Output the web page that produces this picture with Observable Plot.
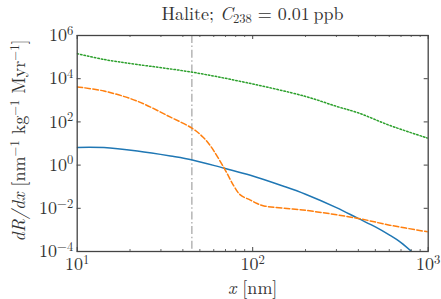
<!DOCTYPE html>
<html><head><meta charset="utf-8">
<script src="https://cdn.jsdelivr.net/npm/d3@7"></script>
<script src="https://cdn.jsdelivr.net/npm/@observablehq/plot@0.6"></script>
<style>
body{margin:0;background:#fff;}
#title{height:12px;width:441px;position:relative;z-index:1;overflow:visible;font-family:"Latin Modern Roman","Liberation Serif",serif;font-size:18px;color:#333;}
#title span{position:absolute;left:252.5px;top:3px;line-height:20px;transform:translateX(-50%);white-space:nowrap;}
#title sub{font-size:0.7em;vertical-align:-0.22em;line-height:0;}
#chart{position:relative;z-index:0;}
</style></head><body>
<div id="title"><span>Halite; <i>C</i><sub>238</sub> = 0.01&thinsp;ppb</span></div>
<div id="chart"></div>
<script>
// Data
const blueX = [10, 14.2, 22, 34, 45.3, 69, 97, 150, 200, 300, 399, 500, 603, 700, 804];
const blueY = [6.6, 6.46, 4.47, 2.63, 1.74, 0.71, 0.34, 0.105, 0.0447, 0.0107, 0.00339, 0.00138, 0.000575, 0.00026, 0.0001];
const orangeX = [10, 14.2, 22, 34, 45.3, 52, 57.5, 69, 78, 85, 97, 106, 116, 200, 399, 603, 1000];
const orangeY = [4170, 2690, 912, 166, 50.1, 20, 7.67, 0.69, 0.11, 0.0417, 0.024, 0.0166, 0.0129, 0.0081, 0.0034, 0.00166, 0.00081];
const greenX = [10, 14.2, 22, 45.3, 93, 200, 300, 399, 603, 1000];
const greenY = [145000, 77600, 45700, 20000, 6460, 1510, 525, 263, 69, 17.4];
const vLineX = [45];
const xMajor = [10, 100, 1000];
const xMinor = [20, 30, 40, 50, 60, 70, 80, 90, 200, 300, 400, 500, 600, 700, 800, 900];
const yMajor = [1e-4, 1e-2, 1, 1e2, 1e4, 1e6];
const yLabelParts = [{t: "dR/dx", s: "i"}, {t: " [nm"}, {t: "−1", s: "sup"}, {t: " kg"}, {t: "−1", s: "sup"}, {t: " Myr"}, {t: "−1", s: "sup"}, {t: "]"}];
const xLabelParts = [{t: "x", s: "i"}, {t: " [nm]"}];

const W = 441, H = 287, mL = 76.7, mR = 13.3, mT = 23, mB = 48;
const innerW = W - mL - mR, innerH = H - mT - mB;
const TL = 4, TLm = 2;
const fmt = d => "10^" + Math.round(Math.log10(d));
const toRows = (xs, ys) => xs.map((x, i) => ({x, y: ys[i]}));
const axisColor = "#444";
const yLabel = yLabelParts.map(p => p.t).join("");
const xLabel = xLabelParts.map(p => p.t).join("");
const FONT = "'Latin Modern Roman', 'Liberation Serif', serif";

const chart = Plot.plot({
  width: W, height: H,
  marginLeft: mL, marginRight: mR, marginTop: mT, marginBottom: mB,
  x: {type: "log", domain: [10, 1000]},
  y: {type: "log", domain: [1e-4, 1e6]},
  style: {fontFamily: FONT, fontSize: "18px", color: "#333", background: "transparent"},
  marks: [
    Plot.ruleX(vLineX, {x: d => d, stroke: "#b5b5b5", strokeWidth: 1.5, strokeDasharray: "8,2.6,1.5,2.6"}),
    Plot.line(toRows(blueX, blueY), {x: "x", y: "y", stroke: "#1f77b4", strokeWidth: 1.5, curve: "catmull-rom", clip: true}),
    Plot.line(toRows(orangeX, orangeY), {x: "x", y: "y", stroke: "#ff7f0e", strokeWidth: 1.5, strokeDasharray: "5.5,2.4", curve: "catmull-rom", clip: true}),
    Plot.line(toRows(greenX, greenY), {x: "x", y: "y", stroke: "#2ca02c", strokeWidth: 1.5, strokeDasharray: "1.5,2.0", curve: "catmull-rom", clip: true}),
    // inward ticks
    Plot.tickX(xMajor, {x: d => d, insetTop: innerH - TL, stroke: axisColor, strokeWidth: 1}),
    Plot.tickX(xMajor, {x: d => d, insetBottom: innerH - TL, stroke: axisColor, strokeWidth: 1}),
    Plot.tickX(xMinor, {x: d => d, insetTop: innerH - TLm, stroke: axisColor, strokeWidth: 0.8}),
    Plot.tickX(xMinor, {x: d => d, insetBottom: innerH - TLm, stroke: axisColor, strokeWidth: 0.8}),
    Plot.tickY(yMajor, {y: d => d, insetRight: innerW - TL, stroke: axisColor, strokeWidth: 1}),
    Plot.tickY(yMajor, {y: d => d, insetLeft: innerW - TL, stroke: axisColor, strokeWidth: 1}),
    Plot.frame({stroke: axisColor, strokeWidth: 1.3}),
    Plot.axisX({ticks: xMajor, tickSize: 0, tickPadding: 6, tickFormat: fmt, label: null, fill: "#333"}),
    Plot.axisY({ticks: yMajor, tickSize: 0, tickPadding: 4, tickFormat: fmt, label: null, dy: 0, fill: "#333"}),
    Plot.text([xLabel], {frameAnchor: "bottom", dy: 42, text: d => d, fill: "#333", fontSize: 18}),
    Plot.text([yLabel], {frameAnchor: "left", textAnchor: "middle", dx: -57.7, dy: -3, rotate: -90, text: d => d, fill: "#333", fontSize: 18})
  ]
});
document.getElementById("chart").appendChild(chart);

// rich text: italics and superscripts
function fill(el, parts) {
  const sel = d3.select(el);
  sel.text(null);
  let raised = false;
  parts.forEach(p => {
    const ts = sel.append("tspan").text(p.t);
    if (p.s === "i") ts.attr("font-style", "italic");
    if (p.s === "sup") { ts.attr("font-size", "70%"); if (!raised) ts.attr("dy", "-6.5"); raised = true; }
    else if (raised) { ts.attr("dy", "6.5"); raised = false; }
  });
}
d3.select(chart).selectAll("text").each(function() {
  const s = this.textContent;
  if (s === yLabel) return fill(this, yLabelParts);
  if (s === xLabel) return fill(this, xLabelParts);
  const m = /^10\^(-?\d+)$/.exec(s);
  if (m) fill(this, [{t: "10"}, {t: m[1].replace("-", "−"), s: "sup"}]);
});
</script>
</body></html>
